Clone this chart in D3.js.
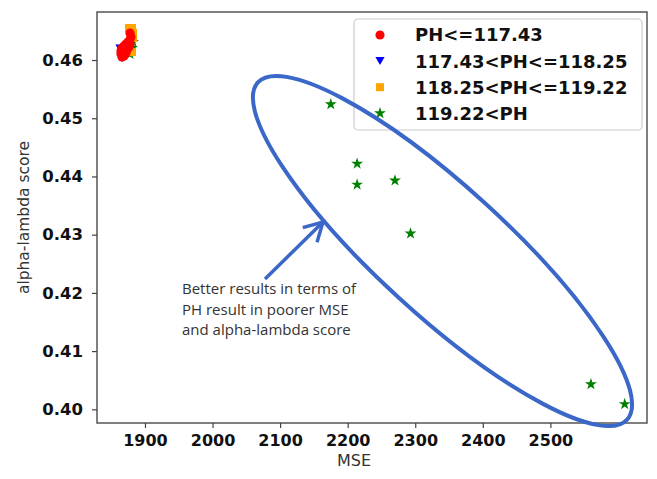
<!DOCTYPE html>
<html><head><meta charset="utf-8">
<script src="https://cdn.jsdelivr.net/npm/d3@7"></script>
<style>body{margin:0;background:#fff}svg{display:block}</style>
</head><body>
<script>
// ---- data ----
const legendLabels = ["PH<=117.43", "117.43<PH<=118.25", "118.25<PH<=119.22", "119.22<PH"];
const xTicks = [1900, 2000, 2100, 2200, 2300, 2400, 2500];
const yTicks = [0.40, 0.41, 0.42, 0.43, 0.44, 0.45, 0.46];

const mseRed   = [1877.8, 1879.3, 1877.8, 1874.8, 1871.9, 1868.9, 1866.0, 1864.5, 1864.5, 1866.0, 1868.9, 1871.9, 1873.4, 1876.3, 1877.8, 1870.4, 1867.4];
const scoreRed = [0.46464, 0.46395, 0.46344, 0.46309, 0.46275, 0.46241, 0.46206, 0.46155, 0.46103, 0.46052, 0.46069, 0.46120, 0.46172, 0.46223, 0.46275, 0.46172, 0.46120];
const mseBlue   = [1866.0, 1863.0];
const scoreBlue = [0.46030, 0.46200];
const mseOrange   = [1876.3, 1880.8, 1882.3, 1882.3, 1880.8];
const scoreOrange = [0.46550, 0.46550, 0.46464, 0.46378, 0.46137];
const mseGreen   = [1882.3, 1880.8, 1877.8, 2175, 2214, 2214, 2270, 2293, 2560, 2610];
const scoreGreen = [0.46309, 0.46206, 0.46103, 0.4524, 0.4422, 0.4386, 0.4393, 0.4302, 0.4043, 0.4009];

const annotationLines = ["Better results in terms of", "PH result in poorer MSE", "and alpha-lambda score"];

// ---- layout ----
const W = 657, H = 479;
const L = 97, R = 647, T = 12, B = 423;
const x = d3.scaleLinear().domain([1829, 2643]).range([L, R]);
const y = d3.scaleLinear().domain([0.39765, 0.46825]).range([B, T]);

const svg = d3.select("body").append("svg").attr("width", W).attr("height", H);

const colors = ["#ff0000", "#0000ff", "#ffa500", "#008000"];
const downTri = {draw(ctx, size){ const s = Math.sqrt(size) * 1.1; const h = s * 0.87;
  ctx.moveTo(-s/2, -h/2); ctx.lineTo(s/2, -h/2); ctx.lineTo(0, h/2); ctx.closePath(); }};
const shapes = [d3.symbol(d3.symbolCircle, 66), d3.symbol(downTri, 70), d3.symbol(d3.symbolSquare, 64), d3.symbol(d3.symbolStar, 44)];

const groups = [
  {xs: mseRed, ys: scoreRed},
  {xs: mseBlue, ys: scoreBlue},
  {xs: mseOrange, ys: scoreOrange},
  {xs: mseGreen, ys: scoreGreen}
];

// frame
svg.append("rect").attr("x", L).attr("y", T).attr("width", R - L).attr("height", B - T)
  .attr("fill", "none").attr("stroke", "#555").attr("stroke-width", 1.5);

// axes
const xa = svg.append("g").attr("transform", `translate(0,${B})`)
  .call(d3.axisBottom(x).tickValues(xTicks).tickFormat(d3.format("d")).tickSize(5).tickPadding(6.5));
const ya = svg.append("g").attr("transform", `translate(${L},0)`)
  .call(d3.axisLeft(y).tickValues(yTicks).tickFormat(d3.format(".2f")).tickSize(5).tickPadding(9));
[xa, ya].forEach(a => {
  a.select(".domain").remove();
  a.selectAll(".tick line").attr("stroke", "#444").attr("stroke-width", 1.2);
  a.selectAll(".tick text").attr("fill", "#111").style("font-family", "DejaVu Sans")
    .style("font-weight", "bold");
});
xa.selectAll(".tick text").style("font-size", "16px");
ya.selectAll(".tick text").style("font-size", "16.5px");

svg.append("text").attr("x", 354).attr("y", 466).attr("text-anchor", "middle")
  .style("font-family", "DejaVu Sans").style("font-size", "16px").attr("fill", "#333").text("MSE");
svg.append("text").attr("transform", `translate(24,${(T + B) / 2}) rotate(-90)`).attr("text-anchor", "middle")
  .attr("dy", "0.35em")
  .style("font-family", "DejaVu Sans").style("font-size", "15.5px").attr("fill", "#333").text("alpha-lambda score");

// points (drawn green, orange, blue, red so red sits on top)
[3, 2, 1, 0].forEach(gi => {
  const g = groups[gi];
  svg.append("g").selectAll("path").data(g.xs.map((v, k) => [v, g.ys[k]])).join("path")
    .attr("transform", d => `translate(${x(d[0])},${y(d[1])})`)
    .attr("d", shapes[gi]()).attr("fill", colors[gi]);
});

// legend
const lg = svg.append("g");
lg.append("rect").attr("x", 354).attr("y", 19).attr("width", 288).attr("height", 111).attr("rx", 4)
  .attr("fill", "#fff").attr("fill-opacity", 0.85).attr("stroke", "#cccccc").attr("stroke-width", 1.2);
legendLabels.forEach((lab, i) => {
  const cy = 35 + i * 26.1;
  lg.append("path").attr("transform", `translate(380,${cy})`).attr("d", shapes[i]()).attr("fill", colors[i]);
  lg.append("text").attr("x", 415).attr("y", cy).attr("dy", "0.36em")
    .style("font-family", "DejaVu Sans").style("font-size", "18px").style("font-weight", "bold")
    .attr("fill", "#111").text(lab);
});

// annotation: ellipse, arrow, text
const blue = "#3a67c8";
const ec = [x.invert(442.5), y.invert(251)];
svg.append("ellipse").attr("cx", 0).attr("cy", 0).attr("rx", 250).attr("ry", 64)
  .attr("transform", `translate(${x(ec[0])},${y(ec[1])}) rotate(42.4)`)
  .attr("fill", "none").attr("stroke", blue).attr("stroke-width", 4);

const tail = [x.invert(265), y.invert(279)], tip = [x.invert(323), y.invert(222)];
const tx = x(tip[0]), ty = y(tip[1]), sx = x(tail[0]), sy = y(tail[1]);
svg.append("line").attr("x1", sx).attr("y1", sy).attr("x2", tx).attr("y2", ty)
  .attr("stroke", blue).attr("stroke-width", 3.5);
const ang = Math.atan2(sy - ty, sx - tx), hl = 21, spread = 29 * Math.PI / 180;
svg.append("path").attr("d", d3.line()([
  [tx + hl * Math.cos(ang + spread), ty + hl * Math.sin(ang + spread)],
  [tx, ty],
  [tx + hl * Math.cos(ang - spread), ty + hl * Math.sin(ang - spread)]
])).attr("fill", "none").attr("stroke", blue).attr("stroke-width", 3.5).attr("stroke-linejoin", "miter");

annotationLines.forEach((t, i) => {
  svg.append("text").attr("x", 182).attr("y", 294 + i * 20.5)
    .style("font-family", "Open Sans").style("font-size", "15px").attr("fill", "#333").text(t);
});
</script>
</body></html>
